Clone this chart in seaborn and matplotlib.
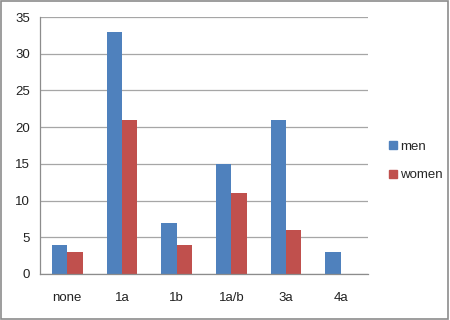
import matplotlib
matplotlib.use("Agg")
import matplotlib.pyplot as plt
import seaborn as sns
import pandas as pd
from matplotlib.patches import Rectangle
from matplotlib.lines import Line2D

categories = ["none", "1a", "1b", "1a/b", "3a", "4a"]
men = [4, 33, 7, 15, 21, 3]
women = [3, 21, 4, 11, 6, 0]
series = ["men", "women"]
colors = ["#4F81BD", "#C0504D"]
yticks = [0, 5, 10, 15, 20, 25, 30, 35]

df = pd.DataFrame({
    "category": categories * 2,
    "value": men + women,
    "series": ["men"] * len(categories) + ["women"] * len(categories),
})

sns.set_style("white")
plt.rcParams["font.family"] = ["Liberation Sans", "DejaVu Sans"]

fig = plt.figure(figsize=(4.5, 3.2), dpi=100)
ax = fig.add_axes([40 / 450, 1 - 274 / 320, 328 / 450, 257 / 320])

sns.barplot(data=df, x="category", y="value", hue="series", order=categories,
            hue_order=series, palette=colors, width=0.56, linewidth=0,
            saturation=1, ax=ax, legend=False)

ax.set_xlim(-0.5, len(categories) - 0.5)
ax.set_ylim(0, 35)
ax.set_yticks(yticks)
ax.set_yticklabels([str(t) for t in yticks], fontsize=9.5, color="#222222")
ax.yaxis.grid(True, color="#A6A6A6", linewidth=0.9)
ax.set_axisbelow(True)

# category boundaries as major ticks, labels on minor ticks
ax.set_xticks([i - 0.5 for i in range(len(categories) + 1)])
ax.set_xticklabels([])
ax.set_xticks(range(len(categories)), minor=True)
ax.set_xticklabels(categories, minor=True, fontsize=9.5, color="#222222")
ax.tick_params(axis="x", which="major", length=4, color="#8C8C8C", width=0.9, direction="out")
ax.tick_params(axis="x", which="minor", length=0, pad=13)
ax.tick_params(axis="y", length=4, color="#8C8C8C", width=0.9, direction="out", pad=3)

for s in ["top", "right"]:
    ax.spines[s].set_visible(False)
for s in ["left", "bottom"]:
    ax.spines[s].set_color("#8C8C8C")
    ax.spines[s].set_linewidth(0.9)

ax.set_xlabel("")
ax.set_ylabel("")

handles = [Line2D([0], [0], marker="s", linestyle="", markersize=6,
                  markerfacecolor=c, markeredgecolor=c) for c in colors]
fig.legend(handles, series, loc="center left", bbox_to_anchor=(382 / 450, 1 - 161 / 320),
           frameon=False, fontsize=9.5, handlelength=0.6, handletextpad=0.3,
           labelspacing=1.2, borderpad=0)

fig.patches.append(Rectangle((0.002, 0.003), 0.994, 0.993, transform=fig.transFigure,
                             fill=False, edgecolor="#8C8C8C", linewidth=1.2))

fig.savefig("out.png", dpi=100)
